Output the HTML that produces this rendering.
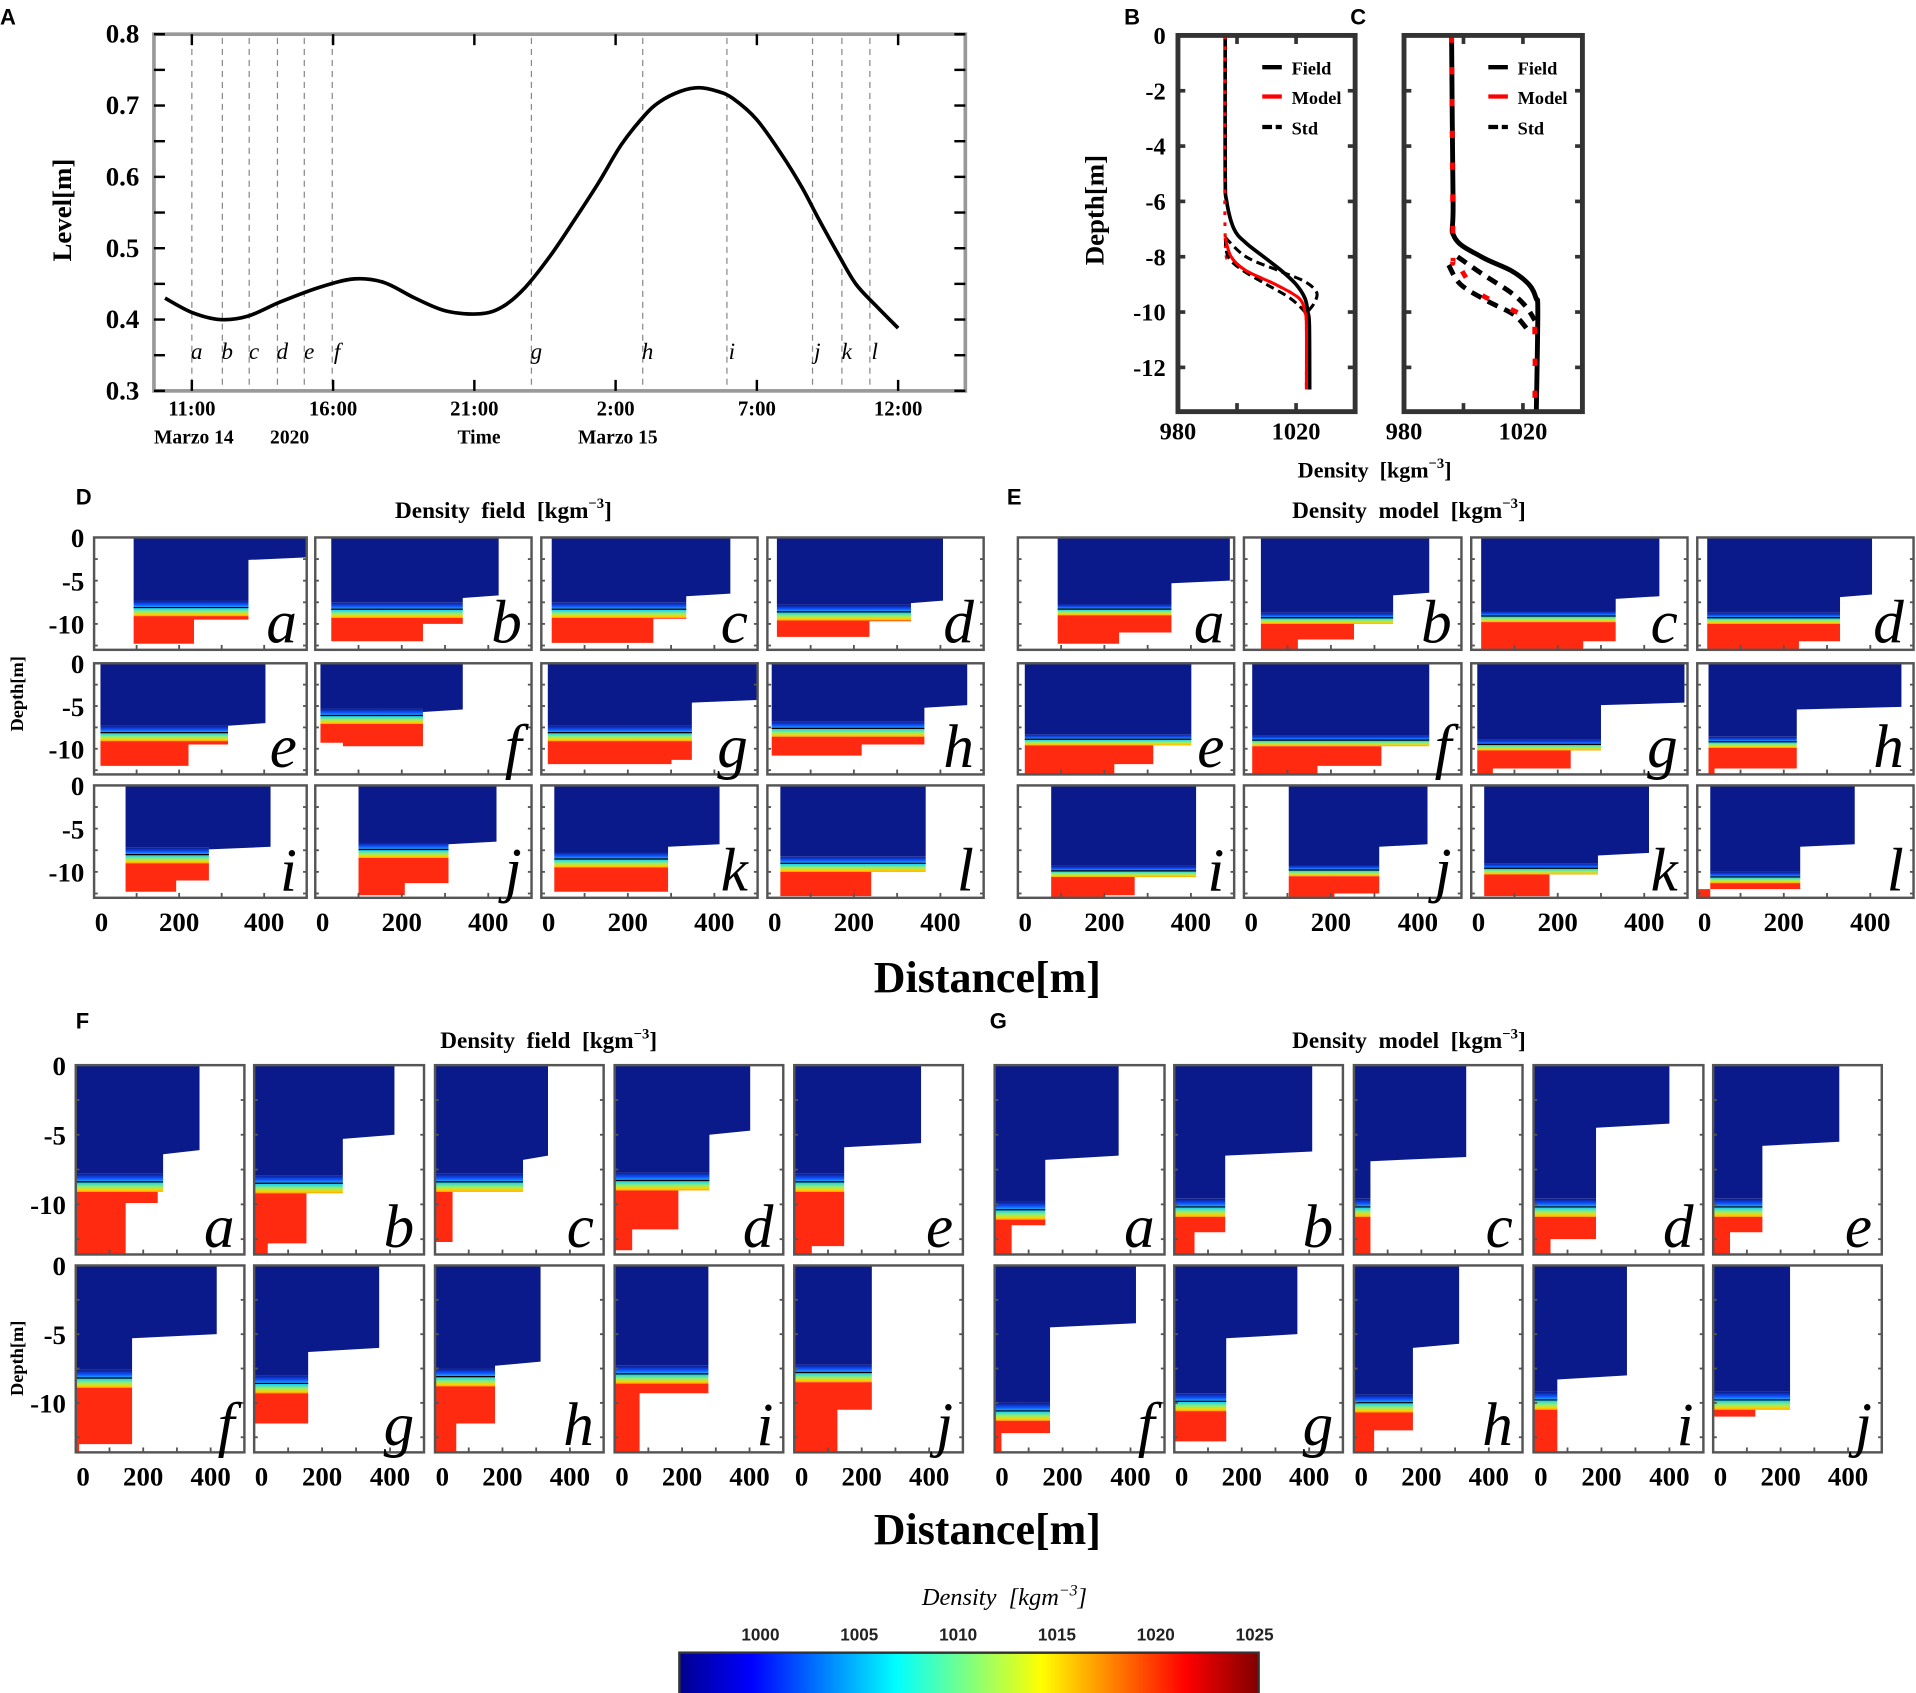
<!DOCTYPE html>
<html><head><meta charset="utf-8">
<style>
html,body{margin:0;padding:0;background:#fff;}
svg{display:block;}
text{font-family:"Liberation Serif",serif;}
.sans{font-family:"Liberation Sans",sans-serif;font-weight:bold;}
</style></head>
<body>
<svg id="fig" xmlns="http://www.w3.org/2000/svg" width="1916" height="1693" viewBox="0 0 1568 1386" preserveAspectRatio="none">
<defs>
<linearGradient id="band" x1="0" y1="0" x2="0" y2="1">
<stop offset="0" stop-color="#0a1a8a"/><stop offset="0.25" stop-color="#1050ff"/>
<stop offset="0.5" stop-color="#20d0f0"/><stop offset="0.72" stop-color="#90f070"/>
<stop offset="0.9" stop-color="#ffd000"/><stop offset="1" stop-color="#ffa000"/>
</linearGradient>
<linearGradient id="jet" x1="0" y1="0" x2="1" y2="0">
<stop offset="0" stop-color="#00008f"/><stop offset="0.125" stop-color="#0000ff"/>
<stop offset="0.375" stop-color="#00ffff"/><stop offset="0.625" stop-color="#ffff00"/>
<stop offset="0.875" stop-color="#ff0000"/><stop offset="1" stop-color="#800000"/>
</linearGradient>
</defs>
</svg>
<script>
// ---------- Panel A data ----------
const levelHours=[10.05,11,12,13,14.15,15.5,16.75,17.8,18.9,20,21.2,22,22.8,23.7,24.55,25.4,26.2,27,27.55,28.3,28.95,29.6,30.15,31,31.9,32.6,33.2,33.9,34.5,35.2,36];
const levelValues=[0.43,0.41,0.40,0.405,0.425,0.445,0.457,0.452,0.43,0.412,0.408,0.418,0.445,0.49,0.54,0.592,0.645,0.685,0.705,0.72,0.725,0.72,0.71,0.68,0.63,0.585,0.54,0.49,0.45,0.42,0.388];
const eventHours=[11,12.08,13.03,14.03,14.98,15.97,23.02,26.96,29.94,32.97,34.01,35.0];
const eventLabels=["a","b","c","d","e","f","g","h","i","j","k","l"];
const timeTickHours=[11,16,21,26,31,36];
const timeTickLabels=["11:00","16:00","21:00","2:00","7:00","12:00"];
const levelTicks=[0.3,0.4,0.5,0.6,0.7,0.8];
// ---------- Panel B / C profiles ----------
const bFieldDepth=[0,-5,-6,-7,-7.5,-8,-8.5,-9,-9.5,-10,-10.5,-12.8];
const bFieldDens=[996,996,996.5,999,1003,1009,1015,1020,1023,1024,1024.5,1024.6];
const bModelDepth=[0,-7.3,-8,-8.5,-9,-9.5,-10,-10.5,-12.8];
const bModelDens=[996,996,998,1003,1013,1021,1023,1023.5,1023.5];
const bStdUpDepth=[-7.3,-8,-8.5,-8.9,-9.3,-9.7,-10,-10.3];
const bStdUpDens=[996,1003,1014,1023,1027,1026,1024,1023.8];
const bStdLoDepth=[-7.3,-8,-8.5,-9,-9.5,-10,-10.3];
const bStdLoDens=[996,997,1002,1010,1018,1023,1024];
const cFieldDepth=[0,-6,-7.3,-8,-8.5,-9,-9.5,-10,-13.6];
const cFieldDens=[996,996.5,997,1006,1016,1022,1024.4,1025,1024.5];
const cModelDepth=[0,-7.6,-8,-9.2,-9.8,-10.3,-10.8,-13.6];
const cModelDens=[996,996.5,997,1004,1014,1023,1024,1024];
const cStdUpDepth=[-8,-8.6,-9.3,-9.8,-10.3];
const cStdUpDens=[998,1006,1016,1021,1024];
const cStdLoDepth=[-8.3,-9,-9.6,-10.1,-10.7];
const cStdLoDens=[995,999,1008,1017,1022];
const densTicks=[980,1000,1020,1040];
const depthTicksB=[0,-2,-4,-6,-8,-10,-12];
// ---------- Section panels: [x0,x1,d1,stepX,T,redR,redX,r1,r2] ----------
const panelLetters12=["a","b","c","d","e","f","g","h","i","j","k","l"];
const panelLetters10=["a","b","c","d","e","f","g","h","i","j"];
const dPanels=[[93,500,2.3,363,7.3,363,235,12.3,9.5],[37,424,6.7,341,7.5,341,249,12,10],[24,437,6.5,335,7.5,335,259,12.2,9.4],[22,406,7.3,332,7.8,332,236,11.5,9.7],
[15,403,7,315,7.3,315,222,12,9.5],[12,341,5.4,249,5.3,249,64,9.3,9.7],[15,498,4.3,348,7.3,348,301,11.8,11.3],[10,462,4.9,363,6.8,363,218,10.8,9.5],
[74,415,7.1,270,7.2,270,193,12.3,11],[100,419,6.5,308,6.6,308,207,12.7,11.3],[30,412,6.8,293,7.7,293,293,12.3,12.3],[30,366,6.8,366,8.2,366,240,12.8,10]];
const ePanels=[[92,490,5,355,7.7,355,234,12.3,11],[39,426,6.4,343,8.7,253,124,13.2,11.8],[23,435,6.8,334,8.5,334,259,13,12],[23,404,6.6,330,8.7,330,235,13,12],
[16,401,8.3,401,8.3,313,223,13,11.8],[19,426,8.3,426,8.4,316,169,13.2,12],[14,493,4.6,300,8.9,230,50,13,12.3],[26,472,5.1,230,8.6,230,40,13,12.3],
[77,412,9.3,412,9.3,270,200,13.3,12.7],[103,422,6.8,311,9.2,311,208,13.3,12.5],[30,411,7.8,293,9,181,30,13.3,12.8],[30,364,6.8,238,10,238,0,13.3,12]];
const fPanels=[[0,367,6.1,259,7.8,243,148,13.6,9.9],[0,413,5,261,7.9,154,40,13.6,12.8],[0,335,6.5,261,7.8,52,52,12.7,12.7],[0,402,4.7,281,7.7,189,52,13.3,11.8],[0,376,5.6,148,7.8,148,52,13.6,13],
[0,418,5,167,7.6,167,10,13.6,13],[0,368,6,159,8,159,0,12.2,11.5],[0,313,7,178,7.5,178,63,13.6,11.5],[0,278,7.5,278,7.3,278,74,13.6,9.3],[0,230,7.5,230,7.2,230,128,13.6,10.5]];
const gPanels=[[0,365,6.5,149,9.8,149,50,13.6,11.5],[0,409,6.2,151,9.6,151,60,13.6,12],[0,333,6.6,49,9.6,49,49,13.6,13.6],[0,400,4.2,184,9.6,184,50,13.6,12.5],[0,374,5.5,146,9.6,146,50,13.6,12],
[0,416,4.2,163,10,163,20,13.6,12.2],[0,365,5,154,9.3,154,0,13.6,12.8],[0,312,5.7,175,9.4,175,60,13.6,12],[0,275,8,70,9.2,70,70,13.6,13.6],[0,228,8.5,228,9.2,125,0,13.6,11]];
const distTicks=[0,200,400];
const sectionDepthTicks=[0,-5,-10];
const cbTicks=[1000,1005,1010,1015,1020,1025];

const NS="http://www.w3.org/2000/svg";
const svg=document.getElementById('fig');
function mk(tag,attrs,parent){const e=document.createElementNS(NS,tag);for(const k in attrs)e.setAttribute(k,attrs[k]);(parent||svg).appendChild(e);return e;}
function txt(s,x,y,size,opts,parent){const o=Object.assign({x:x,y:y,'font-size':size},opts||{});const e=mk('text',o,parent);e.textContent=s;return e;}
function smooth(pts){let d='M'+pts[0][0]+','+pts[0][1];for(let i=0;i<pts.length-1;i++){const p0=pts[Math.max(0,i-1)],p1=pts[i],p2=pts[i+1],p3=pts[Math.min(pts.length-1,i+2)];
const c1x=p1[0]+(p2[0]-p0[0])/6,c1y=p1[1]+(p2[1]-p0[1])/6,c2x=p2[0]-(p3[0]-p1[0])/6,c2y=p2[1]-(p3[1]-p1[1])/6;d+=' C'+c1x+','+c1y+' '+c2x+','+c2y+' '+p2[0]+','+p2[1];}return d;}

// ================= Panel A =================
(function(){
const L=126,R=790,T=28,B=320;
const xA=h=>157+(h-11)*23.12;
const yA=v=>B-(v-0.3)/0.5*(B-T);
const g=mk('g',{});


let t=txt('A',0,20,18,{'class':'sans'},g);


eventHours.forEach((h,i)=>{
 const ln=mk('line',{x1:xA(h),x2:xA(h),y1:T+3,y2:B-3,stroke:'#888','stroke-width':1,'stroke-dasharray':'5,4'},g);
 
 
 const lb=txt(eventLabels[i],xA(h)+4,294,19,{'font-style':'italic','text-anchor':'middle'},g);
 
 
});
const fr=mk('rect',{x:L,y:T,width:R-L,height:B-T,fill:'none',stroke:'#999','stroke-width':3},g);


timeTickHours.forEach((h,i)=>{
 mk('line',{x1:xA(h),x2:xA(h),y1:B,y2:B-9,stroke:'#000','stroke-width':2},g);
 mk('line',{x1:xA(h),x2:xA(h),y1:T,y2:T+9,stroke:'#000','stroke-width':2},g);
 const l=txt(timeTickLabels[i],xA(h),340,17,{'text-anchor':'middle','font-weight':'bold'},g);
 
 
});
for(let v=0.3;v<=0.801;v+=0.05){
 mk('line',{x1:L,x2:L+9,y1:yA(v),y2:yA(v),stroke:'#000','stroke-width':2},g);
 mk('line',{x1:R,x2:R-9,y1:yA(v),y2:yA(v),stroke:'#000','stroke-width':2},g);
}
levelTicks.forEach(v=>{
 const l=txt(v.toFixed(1),114,yA(v)+7,22,{'text-anchor':'end','font-weight':'bold'},g);
 
 
});
let s=txt('Marzo 14',126,363,16,{'font-weight':'bold'},g);


s=txt('2020',221,363,16,{'font-weight':'bold'},g);


s=txt('Time',392,363,16,{'font-weight':'bold','text-anchor':'middle'},g);


s=txt('Marzo 15',473,363,16,{'font-weight':'bold'},g);


s=txt('Level[m]',0,0,22,{'font-weight':'bold','text-anchor':'middle',transform:'translate(58,172) rotate(-90)'},g);


const pts=levelHours.map((h,i)=>[xA(h),yA(levelValues[i])]);
const p=mk('path',{d:smooth(pts),fill:'none',stroke:'#000','stroke-width':3},g);


})();

// ================= Panels B, C =================
function profilePanel(name,letter,L,R,showY,series){
 const T=29,B=337;
 const xP=d=>L+(d-980)/60*(R-L);
 const yP=z=>T+(-z)/13.6*(B-T);
 const g=mk('g',{});
 
 
 let t=txt(letter,L-44,20,18,{'class':'sans'},g);
 
 
 series.forEach(sr=>{
  const pts=sr.dens.map((d,i)=>[xP(d),yP(sr.depth[i])]);
  const p=mk('path',{d:smooth(pts),fill:'none',stroke:sr.color,'stroke-width':sr.w,'stroke-dasharray':sr.dash||'none'},g);
  
  
 });
 const fr=mk('rect',{x:L,y:T,width:R-L,height:B-T,fill:'none',stroke:'#333','stroke-width':4},g);
 
 
 densTicks.forEach(d=>{
  mk('line',{x1:xP(d),x2:xP(d),y1:B,y2:B-7,stroke:'#333','stroke-width':3},g);
  mk('line',{x1:xP(d),x2:xP(d),y1:T,y2:T+7,stroke:'#333','stroke-width':3},g);
 });
 [980,1020].forEach(d=>{
  const l=txt(String(d),xP(d),360,20,{'text-anchor':'middle','font-weight':'bold'},g);
  
  
 });
 depthTicksB.forEach(z=>{
  mk('line',{x1:L,x2:L+6,y1:yP(z),y2:yP(z),stroke:'#333','stroke-width':3},g);
  mk('line',{x1:R,x2:R-6,y1:yP(z),y2:yP(z),stroke:'#333','stroke-width':3},g);
  if(showY){const l=txt(String(z),L-10,yP(z)+7,20,{'text-anchor':'end','font-weight':'bold'},g);
  
  }
 });
 const leg=[['Field','#000',''],['Model','#f00',''],['Std','#000','8,3']];
 leg.forEach((e,i)=>{
  const y=[55,79,104][i];
  const ln=mk('line',{x1:L+69,x2:L+85,y1:y,y2:y,stroke:e[1],'stroke-width':3.5,'stroke-dasharray':e[2]||'none'},g);
  
  
  const lt=txt(e[0],L+93,y+6,15,{'font-weight':'bold'},g);
  
  
 });
}
profilePanel('panel-b-profile','B',964,1109,true,[
 {name:'b-field-line',depth:bFieldDepth,dens:bFieldDens,color:'#000',w:3},
 {name:'b-model-line',depth:bModelDepth,dens:bModelDens,color:'#f00',w:2.5,dash:'3,6'},
 {name:'b-std-upper',depth:bStdUpDepth,dens:bStdUpDens,color:'#000',w:2.5,dash:'7,4'},
 {name:'b-std-lower',depth:bStdLoDepth,dens:bStdLoDens,color:'#000',w:2.5,dash:'7,4'},
 {name:'b-model-lower',depth:bModelDepth.slice(1),dens:bModelDens.slice(1),color:'#f00',w:2.5}
]);
profilePanel('panel-c-profile','C',1149,1295,false,[
 {name:'c-field-line',depth:cFieldDepth,dens:cFieldDens,color:'#000',w:4},
 {name:'c-std-upper',depth:cStdUpDepth,dens:cStdUpDens,color:'#000',w:4,dash:'9,6'},
 {name:'c-std-lower',depth:cStdLoDepth,dens:cStdLoDens,color:'#000',w:4,dash:'9,6'},
 {name:'c-model-line',depth:cModelDepth,dens:cModelDens,color:'#f00',w:4,dash:'6,20'}
]);
(function(){
 let t=txt('Depth[m]',0,0,22,{'font-weight':'bold','text-anchor':'middle',transform:'translate(903,172) rotate(-90)'});
 
 
 t=mk('text',{x:1125,y:391,'font-size':18,'font-weight':'bold','text-anchor':'middle'});
 t.innerHTML='Density &#160;[kgm<tspan dy="-8" font-size="12">−3</tspan><tspan dy="8">]</tspan>';
 
 
})();

// ================= Section panels =================
function section(parent,name,box,prm,letter,band,dmax,showY,showX,lsize){
 const [L,R,T,B]=box;
 const xS=m=>L+m/500*(R-L);
 const yS=z=>T+z/dmax*(B-T);
 const g=mk('g',{},parent);
 
 
 const cid='c'+name;
 const cp=mk('clipPath',{id:cid},g);mk('rect',{x:L,y:T,width:R-L,height:B-T},cp);
 const cg=mk('g',{'clip-path':'url(#'+cid+')'},g);
 const [x0,x1,d1,stepX,Td,redR,redX,r1,r2]=prm;
 const blue=[[x0,0],[x1,0],[x1,d1],[stepX,d1+0.3],[stepX,Td],[x0,Td]];
 let p=mk('polygon',{points:blue.map(q=>xS(q[0])+','+yS(q[1])).join(' '),fill:'#0a1a8a'},cg);
 
 
 p=mk('rect',{x:xS(x0),y:yS(Td),width:xS(stepX)-xS(x0),height:yS(Td+band)-yS(Td),fill:'url(#band)'},cg);
 
 
 const rt=Td+band;
 const red=[[x0,rt],[Math.max(redR,redX),rt],[Math.max(redR,redX),r2],[redX,r2],[redX,r1],[x0,r1]];
 p=mk('polygon',{points:red.map(q=>xS(q[0])+','+yS(q[1])).join(' '),fill:'#ff2a10'},cg);
 
 
 p=mk('line',{x1:xS(x0),x2:xS(stepX),y1:yS(Td+band*0.45),y2:yS(Td+band*0.45),stroke:'#000','stroke-width':1},cg);
 
 
 const fr=mk('rect',{x:L,y:T,width:R-L,height:B-T,fill:'none',stroke:'#555','stroke-width':2},g);
 
 
 [100,200,300,400].forEach(m=>mk('line',{x1:xS(m),x2:xS(m),y1:B,y2:B-4,stroke:'#555','stroke-width':1.5},g));
 [2.5,5,7.5,10,12.5].forEach(z=>{mk('line',{x1:L,x2:L+3,y1:yS(z),y2:yS(z),stroke:'#555','stroke-width':1.5},g);mk('line',{x1:R,x2:R-3,y1:yS(z),y2:yS(z),stroke:'#555','stroke-width':1.5},g);});
 const lt=txt(letter,R-8,B-6,lsize,{'font-style':'italic','text-anchor':'end'},g);
 
 
 if(showY) sectionDepthTicks.forEach(z=>{const l=txt(String(z),L-8,yS(-z)+8,22,{'text-anchor':'end','font-weight':'bold'},g);
  
  });
 if(showX) distTicks.forEach(m=>{const l=txt(String(m),Math.max(xS(m),L+6),B+27,22,{'text-anchor':'middle','font-weight':'bold'},g);
  
  });
}
function grid(name,cols,rows,panels,letters,band,dmax,showY,lsize){
 const g=mk('g',{});
 
 
 panels.forEach((prm,i)=>{const c=i%cols.length,r=Math.floor(i/cols.length);
  section(g,name+'-'+letters[i],[cols[c][0],cols[c][1],rows[r][0],rows[r][1]],prm,letters[i],band,dmax,showY&&c===0,r===rows.length-1,lsize);});
}
const rowsDE=[[440,532],[543,634],[643,735]];
grid('panel-d-field',[[77,251],[258,435],[443,620],[628,805]],rowsDE,dPanels,panelLetters12,1.8,13,true,50);
grid('panel-e-model',[[833,1010],[1018,1196],[1204,1381],[1389,1566]],rowsDE,ePanels,panelLetters12,1.3,13,false,50);
const rowsFG=[[872,1027],[1036,1189]];
grid('panel-f-field',[[62,200],[208,347],[356,494],[503,641],[650,788]],rowsFG,fPanels,panelLetters10,1.3,13.6,true,50);
grid('panel-g-model',[[814,953],[961,1099],[1108,1246],[1255,1394],[1402,1540]],rowsFG,gPanels,panelLetters10,1.3,13.6,false,50);

// titles & labels
(function(){
 function T(s,x,y,sz,nm,cls){const t=txt(s,x,y,sz,cls?{'class':cls}:{});return t;}
 T('D',62,413,18,'panel-d-letter','sans');T('E',824,413,18,'panel-e-letter','sans');
 T('F',62,842,18,'panel-f-letter','sans');T('G',810,842,18,'panel-g-letter','sans');
 function title(s,x,y,nm){const t=mk('text',{x:x,y:y,'font-size':19,'font-weight':'bold','text-anchor':'middle'});
  t.innerHTML=s+' &#160;[kgm<tspan dy="-8" font-size="12">−3</tspan><tspan dy="8">]</tspan>';
  }
 title('Density &#160;field',412,424,'panel-d-title');title('Density &#160;model',1153,424,'panel-e-title');
 title('Density &#160;field',449,858,'panel-f-title');title('Density &#160;model',1153,858,'panel-g-title');
 let d=txt('Distance[m]',808,812,36,{'font-weight':'bold','text-anchor':'middle'});
 
 d=txt('Distance[m]',808,1264,36,{'font-weight':'bold','text-anchor':'middle'});
 
 d=txt('Depth[m]',0,0,15,{'font-weight':'bold','text-anchor':'middle',transform:'translate(19,568) rotate(-90)'});
 
 d=txt('Depth[m]',0,0,15,{'font-weight':'bold','text-anchor':'middle',transform:'translate(19,1112) rotate(-90)'});
 
 // colorbar
 const cL=556,cR=1030;
 const xc=v=>cL+(v-995.9)/(1025.2-995.9)*(cR-cL);
 const cb=mk('rect',{x:cL,y:1353,width:cR-cL,height:34,fill:'url(#jet)',stroke:'#333','stroke-width':2});
 
 cbTicks.forEach(v=>{const l=txt(String(v),xc(v),1343,14,{'class':'sans','text-anchor':'middle',fill:'#222'});
  });
 const ct=mk('text',{x:822,y:1314,'font-size':20,'font-style':'italic','text-anchor':'middle'});
 ct.innerHTML='Density &#160;[kgm<tspan dy="-8" font-size="13">−3</tspan><tspan dy="8">]</tspan>';
 
})();
</script>
</body></html>
